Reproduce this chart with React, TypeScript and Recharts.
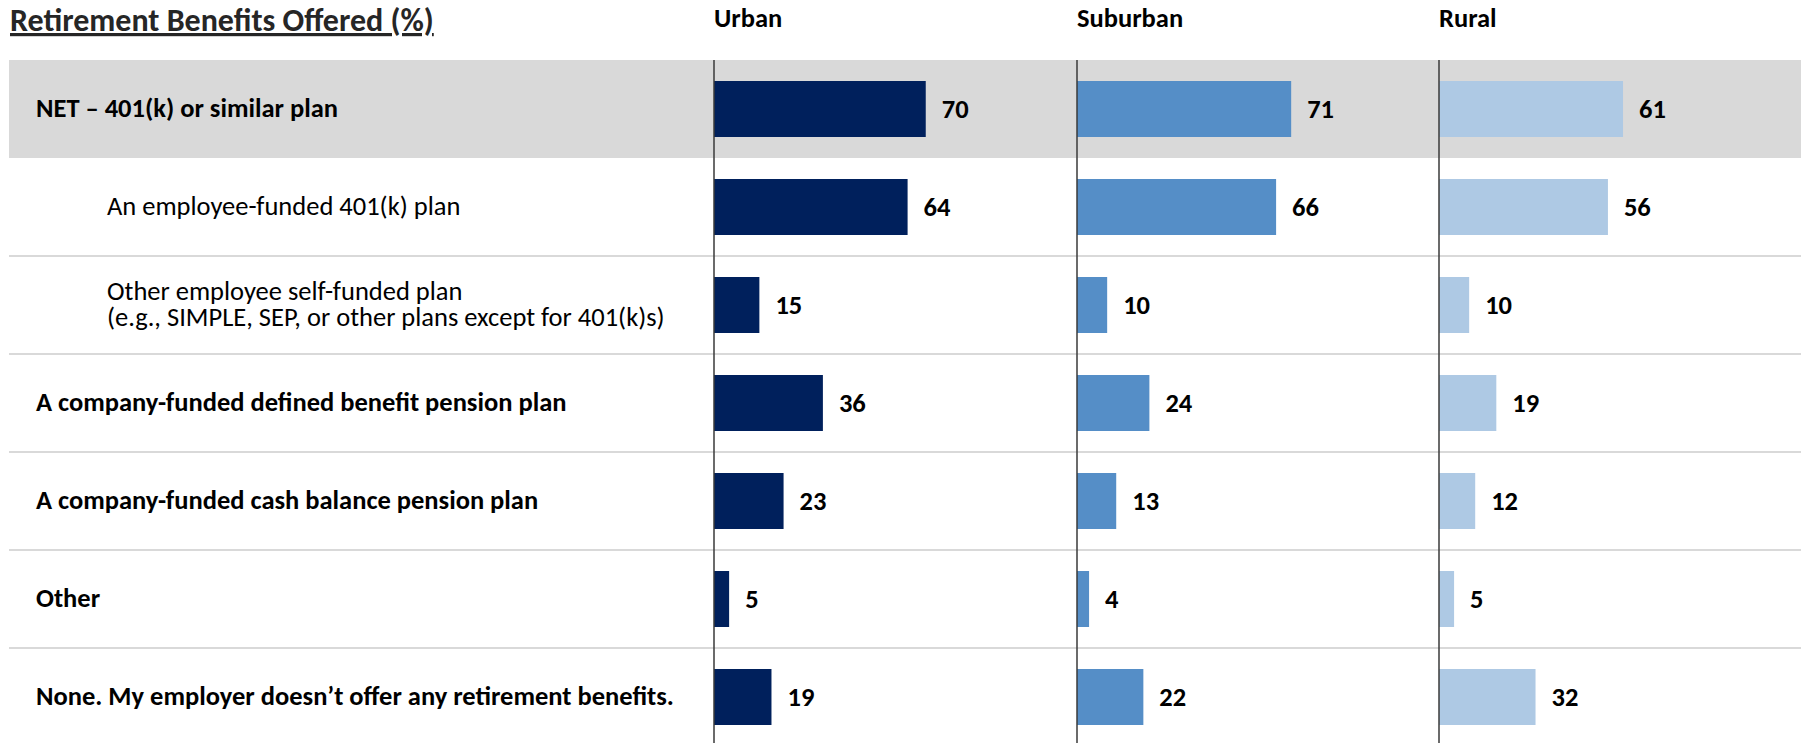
import React from 'react';
import { BarChart, Bar, XAxis, YAxis, ReferenceArea, ReferenceLine, LabelList } from 'recharts';

const title = 'Retirement Benefits Offered (%)';
const categories = [
  'NET – 401(k) or similar plan',
  'An employee-funded 401(k) plan',
  'Other employee self-funded plan\n(e.g., SIMPLE, SEP, or other plans except for 401(k)s)',
  'A company-funded defined benefit pension plan',
  'A company-funded cash balance pension plan',
  'Other',
  'None. My employer doesn’t offer any retirement benefits.',
];
const subItem = [false, true, true, false, false, false, false];
const highlighted = 'NET – 401(k) or similar plan';
const panelNames = ['Urban', 'Suburban', 'Rural'];
const urban = [70, 64, 15, 36, 23, 5, 19];
const suburban = [71, 66, 10, 24, 13, 4, 22];
const rural = [61, 56, 10, 19, 12, 5, 32];
const panelKeys = ['urban', 'suburban', 'rural'];
const panelColors = ['#00205C', '#558EC7', '#AEC9E4'];

const rows = categories.map((label, i) => ({
  label,
  sub: subItem[i],
  urban: urban[i],
  suburban: suburban[i],
  rural: rural[i],
}));

const FONT = "Carlito, Calibri, Lato, sans-serif";
const ROW_H = 98;
const CHART_H = ROW_H * categories.length;
const TOP = 60;

const DividerShape = (props: any) => {
  const { x, y, width, height } = props;
  if (x == null || y == null) return null;
  return (
    <line x1={x} x2={x + width} y1={y + height} y2={y + height} stroke="#D9D9D9" strokeWidth={2} />
  );
};

const rowAreas = () =>
  rows.map((r, i) => {
    if (r.label === highlighted) {
      return (
        <ReferenceArea
          key={'ra' + i}
          y1={r.label}
          y2={r.label}
          fill="#D9D9D9"
          fillOpacity={1}
          stroke="none"
          ifOverflow="visible"
        />
      );
    }
    if (i < rows.length - 1) {
      return (
        <ReferenceArea
          key={'ra' + i}
          y1={r.label}
          y2={r.label}
          shape={DividerShape}
          ifOverflow="visible"
        />
      );
    }
    return null;
  });

const CategoryLabel = (props: any) => {
  const { x, y, height, value, index } = props;
  if (x == null || y == null) return null;
  const label: string = String(value);
  const sub = subItem[index];
  const lines = label.split('\n');
  const fs = 26.5;
  const lh = 26;
  const tx = x + (sub ? 98 : 27);
  const cy = y + height / 2;
  const first = -((lines.length - 1) / 2) * lh + fs * 0.31;
  return (
    <text
      x={tx}
      y={cy}
      fill="#000"
      fontFamily={FONT}
      fontSize={fs}
      fontWeight={sub ? 400 : 700}
      textAnchor="start"
    >
      {lines.map((l, k) => (
        <tspan key={k} x={tx} dy={k === 0 ? first : lh}>
          {l}
        </tspan>
      ))}
    </text>
  );
};

const panelWidths = [364, 363, 363];
const panelLefts = [713, 1076, 1438];

export default function App() {
  return (
    <div
      style={{
        position: 'absolute',
        left: 0,
        top: 0,
        width: 1806,
        height: 743,
        overflow: 'hidden',
        background: '#fff',
        fontFamily: FONT,
      }}
    >
      <svg width={1806} height={60} style={{ position: 'absolute', left: 0, top: 0 }}>
        <text
          x={10}
          y={31}
          fontFamily={FONT}
          fontSize={32}
          fontWeight={700}
          fill="#262626"
          textDecoration="underline"
          style={{ textDecoration: 'underline' }}
        >
          {title}
        </text>
        {panelNames.map((n, i) => (
          <text
            key={n}
            x={panelLefts[i] + 1}
            y={27}
            fontFamily={FONT}
            fontSize={26.5}
            fontWeight={700}
            fill="#000"
          >
            {n}
          </text>
        ))}
      </svg>

      <div style={{ position: 'absolute', left: 9, top: TOP }}>
        <BarChart
          layout="vertical"
          width={706}
          height={CHART_H}
          data={rows}
          margin={{ top: 0, right: 0, bottom: 0, left: 0 }}
        >
          <XAxis type="number" domain={[0, 100]} hide />
          <YAxis type="category" dataKey="label" hide />
          {rowAreas()}
          <Bar dataKey="urban" fill="none" barSize={56} isAnimationActive={false} legendType="none">
            <LabelList dataKey="label" content={<CategoryLabel />} />
          </Bar>
        </BarChart>
      </div>

      {panelKeys.map((k, pi) => (
        <div key={k} style={{ position: 'absolute', left: panelLefts[pi], top: TOP }}>
          <BarChart
            layout="vertical"
            width={panelWidths[pi]}
            height={CHART_H}
            data={rows}
            margin={{ top: 0, right: 0, bottom: 0, left: 1 }}
          >
            <XAxis type="number" domain={[0, 120]} hide />
            <YAxis type="category" dataKey="label" hide />
            {rowAreas()}
            <Bar dataKey={k} fill={panelColors[pi]} barSize={56} isAnimationActive={false}>
              <LabelList
                dataKey={k}
                position="right"
                offset={16}
                fill="#000"
                fontFamily={FONT}
                fontSize={26.5}
                fontWeight={700}
              />
            </Bar>
            <ReferenceLine x={0} stroke="#3A3A3A" strokeWidth={1.5} ifOverflow="visible" />
          </BarChart>
        </div>
      ))}
    </div>
  );
}
